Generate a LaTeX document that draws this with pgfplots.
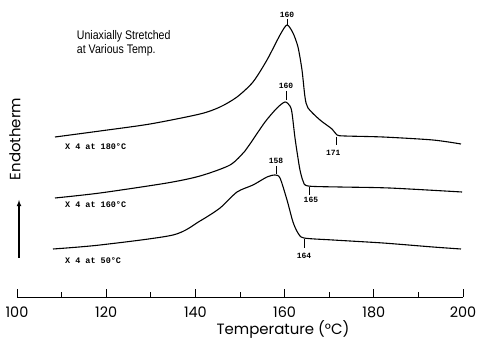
\documentclass[border=0pt]{standalone}
\usepackage{fontspec}
\usepackage{pgfplots}
\pgfplotsset{compat=1.18}
\setmainfont{Poppins}
\newfontfamily\monof{Liberation Mono}
\newfontfamily\titlef[FakeStretch=0.85]{Liberation Sans}
\newfontfamily\bigf{Poppins}
\begin{document}
\begin{tikzpicture}
\begin{axis}[
  at={(17bp,55bp)}, anchor=south west,
  scale only axis, width=446bp, height=297bp,
  xmin=100, xmax=200, ymin=-297, ymax=0,
  clip=false,
  axis x line*=bottom, axis y line=none,
  xtick={100,120,...,200}, minor xtick={110,130,...,190},
  tick align=inside,
  major tick length=8bp, minor tick length=5bp,
  every tick/.style={black, line width=1pt},
  x axis line style={line width=0.9pt},
  xticklabel style={font=\fontsize{14.5}{14.5}\bigf, anchor=center, yshift=-15bp},
  /pgf/number format/assume math mode=true,
]
% top curve: x4 at 180 C
\addplot[black, line width=1.1pt, smooth, tension=0.45] coordinates {
(108.52,-137) (118.61,-131) (129.82,-124) (141.03,-114) (145.52,-107)
(149.33,-97) (152.91,-82) (156.05,-60) (158.97,-35) (160.54,-25)
(161.88,-33) (163.00,-47) (163.90,-70) (164.57,-97) (165.25,-108)
(167.94,-120) (170.63,-129) (171.75,-135) (173.54,-136) (182.06,-137)
(193.27,-140) (199.55,-144)};
% middle curve: x4 at 160 C
\addplot[black, line width=1.1pt, smooth, tension=0.45] coordinates {
(108.52,-198) (118.61,-193) (133.63,-183) (141.03,-176) (147.76,-165)
(151.12,-151) (152.24,-144) (155.61,-122) (158.30,-108) (160.09,-102)
(161.21,-106) (161.66,-113) (162.33,-138) (163.00,-158) (163.45,-170)
(164.13,-181) (165.25,-186) (172.42,-187) (183.50,-188)
(199.78,-192)};
% bottom curve: x4 at 50 C
\addplot[black, line width=1.1pt, smooth, tension=0.45] coordinates {
(108.07,-249) (118.61,-245) (134.98,-235) (141.03,-221) (145.52,-208)
(149.33,-192) (152.91,-185) (156.05,-177) (157.85,-175) (158.97,-178)
(160.54,-200) (161.88,-222) (163.00,-233) (164.35,-238) (170.85,-240)
(182.06,-243) (193.27,-247) (199.55,-249)};
% peak annotations
\draw[black, line width=0.7pt] (axis cs:160.54,-19) -- (axis cs:160.54,-25);
\node[font=\fontsize{8}{8}\monof\bfseries] at (axis cs:160.54,-15) {160};
\draw[black, line width=0.7pt] (axis cs:160.3,-91) -- (axis cs:160.3,-100);
\node[font=\fontsize{8}{8}\monof\bfseries] at (axis cs:160.3,-86) {160};
\draw[black, line width=0.7pt] (axis cs:158.08,-166) -- (axis cs:158.08,-174);
\node[font=\fontsize{8}{8}\monof\bfseries] at (axis cs:158.08,-161) {158};
\draw[black, line width=0.7pt] (axis cs:171.52,-137) -- (axis cs:171.52,-145);
\node[font=\fontsize{8}{8}\monof\bfseries] at (axis cs:170.9,-153) {171};
\draw[black, line width=0.7pt] (axis cs:165.5,-187) -- (axis cs:165.5,-195);
\node[font=\fontsize{8}{8}\monof\bfseries] at (axis cs:165.9,-200) {165};
\draw[black, line width=0.7pt] (axis cs:164.35,-239) -- (axis cs:164.35,-248);
\node[font=\fontsize{8}{8}\monof\bfseries] at (axis cs:164.35,-256) {164};
% series labels
\node[font=\fontsize{8.5}{8.5}\monof\bfseries, anchor=west] at (axis cs:110.0,-147) {X 4 at 180°C};
\node[font=\fontsize{8.5}{8.5}\monof\bfseries, anchor=west] at (axis cs:110.0,-205) {X 4 at 160°C};
\node[font=\fontsize{8.5}{8.5}\monof\bfseries, anchor=west] at (axis cs:110.0,-261) {X 4 at 50°C};
% title
\node[font=\fontsize{12.5}{14}\titlef, anchor=north west, align=left, inner sep=0pt] at (axis cs:113.4,-30) {Uniaxially Stretched\\at Various Temp.};
% endotherm
\node[font=\fontsize{15}{15}\bigf, rotate=90] at (axis cs:99.55,-139) {Endotherm};
\draw[black, line width=1.1pt, -latex] (axis cs:100.45,-258) -- (axis cs:100.45,-200);
% x label
\node[font=\fontsize{15}{15}\bigf] at (axis cs:159.64,-329) {Temperature (°C)};
\end{axis}
\pgfresetboundingbox
\path (0,0) rectangle (482bp,352bp);
\end{tikzpicture}
\end{document}
